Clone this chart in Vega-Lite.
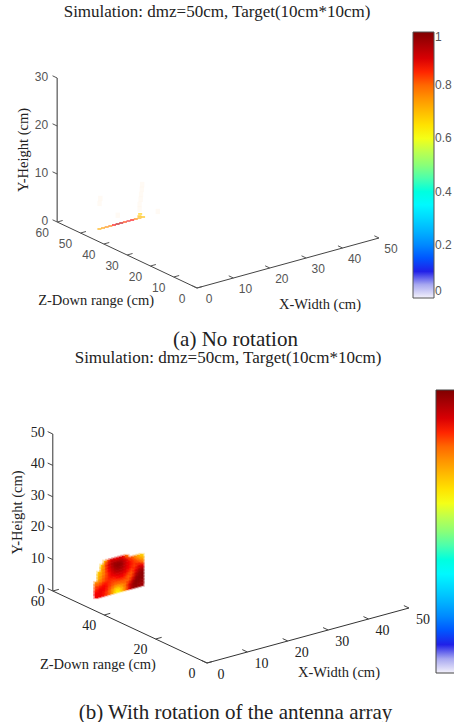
{"$schema":"https://vega.github.io/schema/vega-lite/v6.json","padding":{"top":3,"left":0,"right":0,"bottom":0},"autosize":{"type":"pad"},"spacing":0,"background":"white","config":{"view":{"stroke":null},"concat":{"spacing":0}},"resolve":{"scale":{"color":"independent"},"legend":{"color":"independent"}},
"datasets":{
"frameA":[
{"kind":"axis","axis":"X","x":0,"y":0,"z":0},{"kind":"axis","axis":"X","x":50,"y":0,"z":0},
{"kind":"axis","axis":"Z","x":0,"y":0,"z":0},{"kind":"axis","axis":"Z","x":0,"y":0,"z":60},
{"kind":"axis","axis":"Y","x":0,"y":0,"z":60},{"kind":"axis","axis":"Y","x":0,"y":30,"z":60},
{"kind":"tick","axis":"X","x":0,"y":0,"z":0,"label":"0"},{"kind":"tick","axis":"X","x":10,"y":0,"z":0,"label":"10"},{"kind":"tick","axis":"X","x":20,"y":0,"z":0,"label":"20"},{"kind":"tick","axis":"X","x":30,"y":0,"z":0,"label":"30"},{"kind":"tick","axis":"X","x":40,"y":0,"z":0,"label":"40"},{"kind":"tick","axis":"X","x":50,"y":0,"z":0,"label":"50"},
{"kind":"tick","axis":"Z","x":0,"y":0,"z":0,"label":"0"},{"kind":"tick","axis":"Z","x":0,"y":0,"z":10,"label":"10"},{"kind":"tick","axis":"Z","x":0,"y":0,"z":20,"label":"20"},{"kind":"tick","axis":"Z","x":0,"y":0,"z":30,"label":"30"},{"kind":"tick","axis":"Z","x":0,"y":0,"z":40,"label":"40"},{"kind":"tick","axis":"Z","x":0,"y":0,"z":50,"label":"50"},{"kind":"tick","axis":"Z","x":0,"y":0,"z":60,"label":"60"},
{"kind":"tick","axis":"Y","x":0,"y":0,"z":60,"label":"0"},{"kind":"tick","axis":"Y","x":0,"y":10,"z":60,"label":"10"},{"kind":"tick","axis":"Y","x":0,"y":20,"z":60,"label":"20"},{"kind":"tick","axis":"Y","x":0,"y":30,"z":60,"label":"30"},
{"kind":"title","axis":"X","x":25,"y":0,"z":0,"label":"X-Width (cm)"},{"kind":"title","axis":"Z","x":0,"y":0,"z":30,"label":"Z-Down range (cm)"},{"kind":"title","axis":"Y","x":0,"y":15,"z":60,"label":"Y-Height (cm)"}],
"frameB":[
{"kind":"axis","axis":"X","x":0,"y":0,"z":0},{"kind":"axis","axis":"X","x":50,"y":0,"z":0},
{"kind":"axis","axis":"Z","x":0,"y":0,"z":0},{"kind":"axis","axis":"Z","x":0,"y":0,"z":60},
{"kind":"axis","axis":"Y","x":0,"y":0,"z":60},{"kind":"axis","axis":"Y","x":0,"y":50,"z":60},
{"kind":"tick","axis":"X","x":0,"y":0,"z":0,"label":"0"},{"kind":"tick","axis":"X","x":10,"y":0,"z":0,"label":"10"},{"kind":"tick","axis":"X","x":20,"y":0,"z":0,"label":"20"},{"kind":"tick","axis":"X","x":30,"y":0,"z":0,"label":"30"},{"kind":"tick","axis":"X","x":40,"y":0,"z":0,"label":"40"},{"kind":"tick","axis":"X","x":50,"y":0,"z":0,"label":"50"},
{"kind":"tick","axis":"Z","x":0,"y":0,"z":0,"label":"0"},{"kind":"tick","axis":"Z","x":0,"y":0,"z":20,"label":"20"},{"kind":"tick","axis":"Z","x":0,"y":0,"z":40,"label":"40"},{"kind":"tick","axis":"Z","x":0,"y":0,"z":60,"label":"60"},
{"kind":"tick","axis":"Y","x":0,"y":0,"z":60,"label":"0"},{"kind":"tick","axis":"Y","x":0,"y":10,"z":60,"label":"10"},{"kind":"tick","axis":"Y","x":0,"y":20,"z":60,"label":"20"},{"kind":"tick","axis":"Y","x":0,"y":30,"z":60,"label":"30"},{"kind":"tick","axis":"Y","x":0,"y":40,"z":60,"label":"40"},{"kind":"tick","axis":"Y","x":0,"y":50,"z":60,"label":"50"},
{"kind":"title","axis":"X","x":25,"y":0,"z":0,"label":"X-Width (cm)"},{"kind":"title","axis":"Z","x":0,"y":0,"z":30,"label":"Z-Down range (cm)"},{"kind":"title","axis":"Y","x":0,"y":25,"z":60,"label":"Y-Height (cm)"}],
"surfaceA":[
{"x":4,"y":0,"v":0.72},{"x":5,"y":0,"v":0.74},{"x":6,"y":0,"v":0.76},{"x":7,"y":0,"v":0.78},{"x":8,"y":0,"v":0.86},{"x":9,"y":0,"v":0.94},{"x":10,"y":0,"v":0.92},{"x":11,"y":0,"v":0.84},{"x":12,"y":0,"v":0.88},{"x":13,"y":0,"v":0.86},{"x":14,"y":0,"v":0.78},{"x":15,"y":0,"v":0.72},{"x":16,"y":0,"v":0.7},{"x":15,"y":0.4,"v":0.7},{"x":15.2,"y":0.8,"v":0.68}],
"hazeA":[{"x":15,"y":1.5,"v":0.7},{"x":15,"y":2.5,"v":0.7},{"x":15.3,"y":3.5,"v":0.7},{"x":15.4,"y":4.5,"v":0.68},{"x":15.6,"y":5.5,"v":0.66},{"x":15.7,"y":6.5,"v":0.64},{"x":4,"y":5,"v":0.7},{"x":4.2,"y":6,"v":0.7},{"x":9,"y":1.5,"v":0.7},{"x":20,"y":0,"v":0.7}],
"surfaceB":[
{"x":6.25,"y":10,"v":0.72},{"x":7,"y":10,"v":0.84},{"x":7.75,"y":10,"v":0.9},{"x":8.5,"y":10,"v":0.9},{"x":9.25,"y":10,"v":0.88},{"x":10,"y":10,"v":0.9},{"x":10.75,"y":10,"v":0.88},{"x":11.5,"y":10,"v":0.8},
{"x":5.5,"y":9,"v":0.68},{"x":6.25,"y":9,"v":0.8},{"x":7,"y":9,"v":0.88},{"x":7.75,"y":9,"v":0.93},{"x":8.5,"y":9,"v":0.96},{"x":9.25,"y":9,"v":0.96},{"x":10,"y":9,"v":0.96},{"x":10.75,"y":9,"v":0.93},{"x":11.5,"y":9,"v":0.9},{"x":12.25,"y":9,"v":0.84},{"x":13,"y":9,"v":0.82},{"x":13.75,"y":9,"v":0.76},{"x":14.5,"y":9,"v":0.72},{"x":15.25,"y":9,"v":0.68},
{"x":5.5,"y":8,"v":0.72},{"x":6.25,"y":8,"v":0.8},{"x":7,"y":8,"v":0.87},{"x":7.75,"y":8,"v":0.92},{"x":8.5,"y":8,"v":0.96},{"x":9.25,"y":8,"v":0.98},{"x":10,"y":8,"v":0.98},{"x":10.75,"y":8,"v":0.95},{"x":11.5,"y":8,"v":0.9},{"x":12.25,"y":8,"v":0.87},{"x":13,"y":8,"v":0.85},{"x":13.75,"y":8,"v":0.82},{"x":14.5,"y":8,"v":0.78},{"x":15.25,"y":8,"v":0.74},
{"x":4.75,"y":7,"v":0.68},{"x":5.5,"y":7,"v":0.74},{"x":6.25,"y":7,"v":0.8},{"x":7,"y":7,"v":0.86},{"x":7.75,"y":7,"v":0.9},{"x":8.5,"y":7,"v":0.94},{"x":9.25,"y":7,"v":0.96},{"x":10,"y":7,"v":0.96},{"x":10.75,"y":7,"v":0.94},{"x":11.5,"y":7,"v":0.9},{"x":12.25,"y":7,"v":0.87},{"x":13,"y":7,"v":0.85},{"x":13.75,"y":7,"v":0.84},{"x":14.5,"y":7,"v":0.84},{"x":15.25,"y":7,"v":0.8},
{"x":4.75,"y":6,"v":0.7},{"x":5.5,"y":6,"v":0.76},{"x":6.25,"y":6,"v":0.8},{"x":7,"y":6,"v":0.85},{"x":7.75,"y":6,"v":0.88},{"x":8.5,"y":6,"v":0.92},{"x":9.25,"y":6,"v":0.94},{"x":10,"y":6,"v":0.94},{"x":10.75,"y":6,"v":0.92},{"x":11.5,"y":6,"v":0.89},{"x":12.25,"y":6,"v":0.86},{"x":13,"y":6,"v":0.84},{"x":13.75,"y":6,"v":0.84},{"x":14.5,"y":6,"v":0.88},{"x":15.25,"y":6,"v":0.88},
{"x":4.75,"y":5,"v":0.72},{"x":5.5,"y":5,"v":0.78},{"x":6.25,"y":5,"v":0.82},{"x":7,"y":5,"v":0.85},{"x":7.75,"y":5,"v":0.87},{"x":8.5,"y":5,"v":0.88},{"x":9.25,"y":5,"v":0.9},{"x":10,"y":5,"v":0.9},{"x":10.75,"y":5,"v":0.89},{"x":11.5,"y":5,"v":0.87},{"x":12.25,"y":5,"v":0.84},{"x":13,"y":5,"v":0.82},{"x":13.75,"y":5,"v":0.86},{"x":14.5,"y":5,"v":0.92},{"x":15.25,"y":5,"v":0.94},
{"x":4,"y":4,"v":0.76},{"x":4.75,"y":4,"v":0.78},{"x":5.5,"y":4,"v":0.8},{"x":6.25,"y":4,"v":0.83},{"x":7,"y":4,"v":0.85},{"x":7.75,"y":4,"v":0.85},{"x":8.5,"y":4,"v":0.85},{"x":9.25,"y":4,"v":0.86},{"x":10,"y":4,"v":0.87},{"x":10.75,"y":4,"v":0.86},{"x":11.5,"y":4,"v":0.84},{"x":12.25,"y":4,"v":0.81},{"x":13,"y":4,"v":0.82},{"x":13.75,"y":4,"v":0.9},{"x":14.5,"y":4,"v":0.96},{"x":15.25,"y":4,"v":0.98},
{"x":4,"y":3,"v":0.82},{"x":4.75,"y":3,"v":0.83},{"x":5.5,"y":3,"v":0.85},{"x":6.25,"y":3,"v":0.86},{"x":7,"y":3,"v":0.85},{"x":7.75,"y":3,"v":0.84},{"x":8.5,"y":3,"v":0.83},{"x":9.25,"y":3,"v":0.83},{"x":10,"y":3,"v":0.83},{"x":10.75,"y":3,"v":0.83},{"x":11.5,"y":3,"v":0.82},{"x":12.25,"y":3,"v":0.8},{"x":13,"y":3,"v":0.85},{"x":13.75,"y":3,"v":0.94},{"x":14.5,"y":3,"v":0.98},{"x":15.25,"y":3,"v":0.98},
{"x":4,"y":2,"v":0.84},{"x":4.75,"y":2,"v":0.86},{"x":5.5,"y":2,"v":0.87},{"x":6.25,"y":2,"v":0.87},{"x":7,"y":2,"v":0.85},{"x":7.75,"y":2,"v":0.83},{"x":8.5,"y":2,"v":0.8},{"x":9.25,"y":2,"v":0.79},{"x":10,"y":2,"v":0.79},{"x":10.75,"y":2,"v":0.8},{"x":11.5,"y":2,"v":0.8},{"x":12.25,"y":2,"v":0.83},{"x":13,"y":2,"v":0.9},{"x":13.75,"y":2,"v":0.97},{"x":14.5,"y":2,"v":0.99},{"x":15.25,"y":2,"v":0.98},
{"x":4,"y":1,"v":0.86},{"x":4.75,"y":1,"v":0.88},{"x":5.5,"y":1,"v":0.88},{"x":6.25,"y":1,"v":0.86},{"x":7,"y":1,"v":0.84},{"x":7.75,"y":1,"v":0.79},{"x":8.5,"y":1,"v":0.74},{"x":9.25,"y":1,"v":0.7},{"x":10,"y":1,"v":0.72},{"x":10.75,"y":1,"v":0.75},{"x":11.5,"y":1,"v":0.8},{"x":12.25,"y":1,"v":0.88},{"x":13,"y":1,"v":0.95},{"x":13.75,"y":1,"v":0.99},{"x":14.5,"y":1,"v":0.98},{"x":15.25,"y":1,"v":0.97},
{"x":4,"y":0,"v":0.87},{"x":4.75,"y":0,"v":0.88},{"x":5.5,"y":0,"v":0.87},{"x":6.25,"y":0,"v":0.85},{"x":7,"y":0,"v":0.82},{"x":7.75,"y":0,"v":0.76},{"x":8.5,"y":0,"v":0.68},{"x":9.25,"y":0,"v":0.62},{"x":10,"y":0,"v":0.66},{"x":10.75,"y":0,"v":0.73},{"x":11.5,"y":0,"v":0.81},{"x":12.25,"y":0,"v":0.9},{"x":13,"y":0,"v":0.96},{"x":13.75,"y":0,"v":0.98},{"x":14.5,"y":0,"v":0.97},{"x":15.25,"y":0,"v":0.96}]
},
"vconcat":[
{"width":454,"height":305,
"title":{"text":"Simulation: dmz=50cm, Target(10cm*10cm)","font":"Liberation Serif","fontSize":17,"fontWeight":"normal","color":"#222","anchor":"middle","dx":-10,"offset":2},
"encoding":{"x":{"field":"px","type":"quantitative","scale":{"domain":[0,454],"nice":false,"zero":false},"axis":{"title":"(a) No rotation","titleFont":"Liberation Serif","titleFontSize":21,"titleFontWeight":"normal","titleColor":"#222","titleX":235,"titlePadding":0,"domain":false,"ticks":false,"labels":false,"grid":false}},
"y":{"field":"py","type":"quantitative","scale":{"domain":[327,22],"nice":false,"zero":false},"axis":null}},
"layer":[
{"data":{"name":"hazeA"},"transform":[{"calculate":"datum.x+1.2","as":"x2"},{"calculate":"datum.y+1.1","as":"y2"},{"calculate":"197+3.64*datum.x-2.33*49","as":"px"},{"calculate":"197+3.64*datum.x2-2.33*49","as":"qx"},{"calculate":"287-datum.x-1.1*49-4.8*datum.y","as":"py"},{"calculate":"287-datum.x-1.1*49-4.8*datum.y2","as":"qy"}],"mark":{"type":"rect","opacity":0.06,"color":"#ffb040"},"encoding":{"x2":{"field":"qx"},"y2":{"field":"qy"}}},
{"data":{"name":"surfaceA"},"transform":[{"calculate":"datum.x+1.1","as":"x2"},{"calculate":"datum.y+0.25","as":"y2"},{"calculate":"197+3.64*datum.x-2.33*49","as":"px"},{"calculate":"197+3.64*datum.x2-2.33*49","as":"qx"},{"calculate":"287-(datum.x+0.5)-1.1*49-4.8*datum.y","as":"py"},{"calculate":"287-(datum.x+0.5)-1.1*49-4.8*datum.y2","as":"qy"}],"mark":{"type":"rect"},"encoding":{"x2":{"field":"qx"},"y2":{"field":"qy"},
"color":{"field":"v","type":"quantitative","scale":{"type":"linear","domain":[0,0.02,0.05,0.08,0.1,0.11,0.36,0.49,0.61,0.86,1],"range":["#f4f2fb","#d8d8f4","#a8a8f0","#7070e4","#2020e8","#0000ff","#00ffff","#80ff80","#ffff00","#ff0000","#800000"]},"legend":{"type":"gradient","title":null,"orient":"none","legendX":413,"legendY":9,"gradientLength":266,"gradientThickness":21,"gradientStrokeColor":"#555","gradientStrokeWidth":1,"values":[0,0.2,0.4,0.6,0.8,1],"format":"~g","labelFont":"Liberation Sans","labelFontSize":12,"labelColor":"#555","labelOffset":1}}}},
{"data":{"name":"frameA"},"transform":[{"calculate":"197+3.64*datum.x-2.33*datum.z","as":"px"},{"calculate":"287-datum.x-1.1*datum.z-4.8*datum.y","as":"py"},{"calculate":"datum.px+(datum.axis=='Z'?1.5*3.64:-2*2.33)","as":"tx"},{"calculate":"datum.py+(datum.axis=='Z'?-1.5:-2*1.1)","as":"ty"},{"calculate":"datum.px+(datum.kind=='title'?(datum.axis=='X'?32:datum.axis=='Z'?-31:-33):(datum.axis=='X'?12:datum.axis=='Z'?-15:-9))","as":"lx"},{"calculate":"datum.py+(datum.kind=='title'?(datum.axis=='X'?42:datum.axis=='Z'?46:0):(datum.axis=='X'?11:datum.axis=='Z'?10.5:-1))","as":"ly"}],
"layer":[
{"transform":[{"filter":"datum.kind=='axis'&&datum.axis!='Y'"}],"mark":{"type":"line","color":"#444","strokeWidth":1},"encoding":{"detail":{"field":"axis"},"order":{"field":"z"}}},
{"transform":[{"filter":"datum.kind=='axis'&&datum.axis=='Y'"}],"mark":{"type":"line","color":"#777","strokeWidth":1.5},"encoding":{"order":{"field":"y"}}},
{"transform":[{"filter":"datum.kind=='tick'"}],"mark":{"type":"rule","color":"#555","strokeWidth":1},"encoding":{"x2":{"field":"tx"},"y2":{"field":"ty"}}},
{"transform":[{"filter":"datum.kind=='tick'&&datum.axis!='Y'"}],"mark":{"type":"text","font":"Liberation Sans","fontSize":12,"color":"#555","align":"center","baseline":"middle"},"encoding":{"x":{"field":"lx","type":"quantitative"},"y":{"field":"ly","type":"quantitative"},"text":{"field":"label"}}},
{"transform":[{"filter":"datum.kind=='tick'&&datum.axis=='Y'"}],"mark":{"type":"text","font":"Liberation Sans","fontSize":12,"color":"#555","align":"right","baseline":"middle"},"encoding":{"x":{"field":"lx","type":"quantitative"},"y":{"field":"ly","type":"quantitative"},"text":{"field":"label"}}},
{"transform":[{"filter":"datum.kind=='title'&&datum.axis!='Y'"}],"mark":{"type":"text","font":"Liberation Serif","fontSize":14.5,"color":"#222","align":"center","baseline":"middle"},"encoding":{"x":{"field":"lx","type":"quantitative"},"y":{"field":"ly","type":"quantitative"},"text":{"field":"label"}}},
{"transform":[{"filter":"datum.kind=='title'&&datum.axis=='Y'"}],"mark":{"type":"text","font":"Liberation Serif","fontSize":14.5,"color":"#222","align":"center","baseline":"middle","angle":270},"encoding":{"x":{"field":"lx","type":"quantitative"},"y":{"field":"ly","type":"quantitative"},"text":{"field":"label"}}}
]}
]},
{"width":454,"height":325,
"title":{"text":"Simulation: dmz=50cm, Target(10cm*10cm)","font":"Liberation Serif","fontSize":17,"fontWeight":"normal","color":"#222","anchor":"middle","dx":1,"offset":6},
"encoding":{"x":{"field":"px","type":"quantitative","scale":{"domain":[0,454],"nice":false,"zero":false},"axis":{"title":"(b) With rotation of the antenna array","titleFont":"Liberation Serif","titleFontSize":21,"titleFontWeight":"normal","titleColor":"#222","titleX":235,"titlePadding":3,"domain":false,"ticks":false,"labels":false,"grid":false}},
"y":{"field":"py","type":"quantitative","scale":{"domain":[696,371],"nice":false,"zero":false},"axis":null}},
"layer":[
{"data":{"name":"surfaceB"},"transform":[{"calculate":"datum.x+0.85","as":"x2"},{"calculate":"datum.y+1.1","as":"y2"},{"calculate":"207+4.04*datum.x-2.57*50","as":"px"},{"calculate":"207+4.04*datum.x2-2.57*50","as":"qx"},{"calculate":"661-1.1*(datum.x+0.375)-1.2*50-3.14*datum.y","as":"py"},{"calculate":"661-1.1*(datum.x+0.375)-1.2*50-3.14*datum.y2","as":"qy"}],"mark":{"type":"rect"},"encoding":{"x2":{"field":"qx"},"y2":{"field":"qy"},
"color":{"field":"v","type":"quantitative","scale":{"type":"linear","domain":[0,0.02,0.05,0.08,0.1,0.11,0.36,0.49,0.61,0.86,1],"range":["#f4f2fb","#d8d8f4","#a8a8f0","#7070e4","#2020e8","#0000ff","#00ffff","#80ff80","#ffff00","#ff0000","#800000"]},"legend":{"type":"gradient","title":null,"orient":"none","legendX":436,"legendY":17,"gradientLength":283,"gradientThickness":30,"gradientStrokeColor":"#444","gradientStrokeWidth":1,"values":[0,1],"labelExpr":"''","labelFontSize":1}}}},
{"data":{"name":"surfaceB"},"transform":[{"calculate":"datum.x-0.4","as":"x1"},{"calculate":"datum.x+1.15","as":"x2"},{"calculate":"datum.y-0.3","as":"y1"},{"calculate":"datum.y+1.5","as":"y2"},{"calculate":"207+4.04*datum.x1-2.57*50","as":"px"},{"calculate":"207+4.04*datum.x2-2.57*50","as":"qx"},{"calculate":"661-1.1*(datum.x+0.375)-1.2*50-3.14*datum.y1","as":"py"},{"calculate":"661-1.1*(datum.x+0.375)-1.2*50-3.14*datum.y2","as":"qy"}],"mark":{"type":"rect","opacity":0.3},"encoding":{"x2":{"field":"qx"},"y2":{"field":"qy"},
"color":{"field":"v","type":"quantitative","legend":null}}},
{"data":{"name":"frameB"},"transform":[{"calculate":"207+4.04*datum.x-2.57*datum.z","as":"px"},{"calculate":"661-1.1*datum.x-1.2*datum.z-3.14*datum.y","as":"py"},{"calculate":"datum.px+(datum.axis=='Z'?1.5*4.04:-2*2.57)","as":"tx"},{"calculate":"datum.py+(datum.axis=='Z'?-1.65:-2*1.2)","as":"ty"},{"calculate":"datum.px+(datum.kind=='title'?(datum.axis=='X'?31:datum.axis=='Z'?-32:-35):(datum.axis=='X'?14:datum.axis=='Z'?-15:-8))","as":"lx"},{"calculate":"datum.py+(datum.kind=='title'?(datum.axis=='X'?37:datum.axis=='Z'?38:0):(datum.axis=='X'?12:datum.axis=='Z'?11:-1))","as":"ly"}],
"layer":[
{"transform":[{"filter":"datum.kind=='axis'"}],"mark":{"type":"line","color":"#333","strokeWidth":1},"encoding":{"detail":{"field":"axis"},"order":{"field":"y"}}},
{"transform":[{"filter":"datum.kind=='tick'"}],"mark":{"type":"rule","color":"#444","strokeWidth":1},"encoding":{"x2":{"field":"tx"},"y2":{"field":"ty"}}},
{"transform":[{"filter":"datum.kind=='tick'&&datum.axis!='Y'"}],"mark":{"type":"text","font":"Liberation Serif","fontSize":14,"color":"#222","align":"center","baseline":"middle"},"encoding":{"x":{"field":"lx","type":"quantitative"},"y":{"field":"ly","type":"quantitative"},"text":{"field":"label"}}},
{"transform":[{"filter":"datum.kind=='tick'&&datum.axis=='Y'"}],"mark":{"type":"text","font":"Liberation Serif","fontSize":14,"color":"#222","align":"right","baseline":"middle"},"encoding":{"x":{"field":"lx","type":"quantitative"},"y":{"field":"ly","type":"quantitative"},"text":{"field":"label"}}},
{"transform":[{"filter":"datum.kind=='title'&&datum.axis!='Y'"}],"mark":{"type":"text","font":"Liberation Serif","fontSize":14.5,"color":"#222","align":"center","baseline":"middle"},"encoding":{"x":{"field":"lx","type":"quantitative"},"y":{"field":"ly","type":"quantitative"},"text":{"field":"label"}}},
{"transform":[{"filter":"datum.kind=='title'&&datum.axis=='Y'"}],"mark":{"type":"text","font":"Liberation Serif","fontSize":14.5,"color":"#222","align":"center","baseline":"middle","angle":270},"encoding":{"x":{"field":"lx","type":"quantitative"},"y":{"field":"ly","type":"quantitative"},"text":{"field":"label"}}}
]}
]}
]}
